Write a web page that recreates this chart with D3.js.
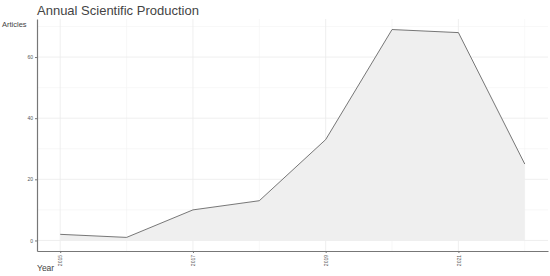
<!DOCTYPE html>
<html><head><meta charset="utf-8">
<script src="https://cdn.jsdelivr.net/npm/d3@7"></script>
<style>body{margin:0;background:#fff}svg{display:block}</style>
</head><body>
<svg id="c" width="550" height="276"></svg>
<script>
const years = [2015, 2016, 2017, 2018, 2019, 2020, 2021, 2022];
const articles = [2, 1, 10, 13, 33, 69, 68, 25];
const xTickLabels = ["2015", "2017", "2019", "2021"];
const yTickLabels = [0, 20, 40, 60];

const svg = d3.select("#c");
const L = 37, R = 548, T = 19, B = 251;
const x = d3.scaleLinear().domain([2014.65, 2022.35]).range([L, R]);
const y = d3.scaleLinear().domain([-3.45, 72.45]).range([B, T]);
const font = "Liberation Sans, Arial, sans-serif";

const g = svg.append("g");
// grid
const minorX = [2016, 2018, 2020, 2022];
const minorY = [10, 30, 50, 70];
g.selectAll(".gxm").data(minorX).join("line").attr("x1", d => x(d)).attr("x2", d => x(d)).attr("y1", T).attr("y2", B).attr("stroke", "#f3f3f3").attr("stroke-width", 0.6);
g.selectAll(".gym").data(minorY).join("line").attr("y1", d => y(d)).attr("y2", d => y(d)).attr("x1", L).attr("x2", R).attr("stroke", "#f3f3f3").attr("stroke-width", 0.6);
g.selectAll(".gx").data(xTickLabels).join("line").attr("x1", d => x(+d)).attr("x2", d => x(+d)).attr("y1", T).attr("y2", B).attr("stroke", "#ebebeb").attr("stroke-width", 0.8);
g.selectAll(".gy").data(yTickLabels).join("line").attr("y1", d => y(d)).attr("y2", d => y(d)).attr("x1", L).attr("x2", R).attr("stroke", "#ebebeb").attr("stroke-width", 0.8);

const pts = years.map((yr, i) => [yr, articles[i]]);
g.append("path").datum(pts)
  .attr("d", d3.area().x(d => x(d[0])).y0(y(0)).y1(d => y(d[1])))
  .attr("fill", "#efefef");
g.append("path").datum(pts)
  .attr("d", d3.line().x(d => x(d[0])).y(d => y(d[1])))
  .attr("fill", "none").attr("stroke", "#555").attr("stroke-width", 0.8);

// axes
const xAxis = g.append("g").attr("transform", `translate(0,${B})`)
  .call(d3.axisBottom(x).tickValues(xTickLabels.map(Number)).tickFormat(d3.format("d")).tickSize(2).tickSizeOuter(0));
xAxis.select(".domain").attr("stroke", "#777").attr("stroke-width", 1.2);
xAxis.selectAll(".tick line").attr("stroke", "#777");
xAxis.selectAll("text").attr("font-family", font).attr("font-size", 5).attr("fill", "#555")
  .attr("transform", "rotate(-90)").attr("text-anchor", "end").attr("dy", "0.35em").attr("x", -4).attr("y", 0);

const yAxis = g.append("g").attr("transform", `translate(${L},0)`)
  .call(d3.axisLeft(y).tickValues(yTickLabels).tickSize(2).tickSizeOuter(0));
yAxis.select(".domain").attr("stroke", "#777").attr("stroke-width", 1.2);
yAxis.selectAll(".tick line").attr("stroke", "#777");
yAxis.selectAll("text").attr("font-family", font).attr("font-size", 5).attr("fill", "#555").attr("x", -4);

svg.append("text").attr("x", 37).attr("y", 15).text("Annual Scientific Production")
  .attr("font-family", font).attr("font-size", 13).attr("fill", "#444");
svg.append("text").attr("x", 2).attr("y", 27).text("Articles")
  .attr("font-family", font).attr("font-size", 7.5).attr("fill", "#444");
svg.append("text").attr("x", 37).attr("y", 271).text("Year")
  .attr("font-family", font).attr("font-size", 8.5).attr("fill", "#444");
</script>
</body></html>
